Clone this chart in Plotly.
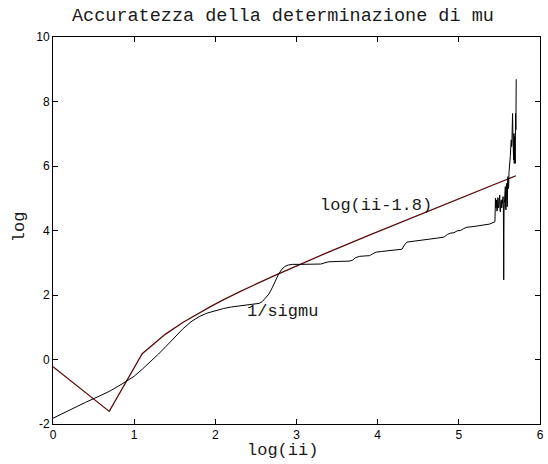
import plotly.graph_objects as go

# Reference curve log(ii-1.8) against log(ii): vertices (real part at ii=1)
ref_x = [0.000, 0.693, 1.099, 1.386, 1.609, 1.792, 1.946, 2.079, 2.303, 2.708,
         2.996, 3.401, 3.912, 4.382, 5.011, 5.298, 5.521, 5.704]
ref_y = [-0.223, -1.609, 0.182, 0.788, 1.163, 1.435, 1.649, 1.825, 2.104, 2.580,
         2.901, 3.339, 3.875, 4.359, 4.999, 5.289, 5.514, 5.698]

# Measured 1/sigmu (log) against log(ii)
sig_x = [0.00, 0.20, 0.40, 0.60, 0.70, 0.85, 1.00, 1.10, 1.20, 1.30, 1.39, 1.50,
         1.60, 1.70, 1.80, 1.90, 2.00, 2.10, 2.20, 2.35, 2.48, 2.54, 2.58, 2.62,
         2.66, 2.70, 2.74, 2.78, 2.82, 2.86, 2.90, 2.95, 3.05, 3.20, 3.30, 3.35,
         3.40, 3.50, 3.65, 3.69, 3.73, 3.78, 3.90, 3.94, 3.98, 4.05, 4.15, 4.25,
         4.30, 4.33, 4.36, 4.45, 4.60, 4.70, 4.78, 4.82, 4.86, 4.90, 4.94, 4.98,
         5.02, 5.06, 5.10, 5.20, 5.30, 5.38, 5.445,
         5.451, 5.457, 5.463, 5.469, 5.475, 5.480, 5.484, 5.488, 5.492, 5.498,
         5.504, 5.508, 5.512, 5.518, 5.524, 5.528, 5.532, 5.538, 5.545, 5.549,
         5.553, 5.557, 5.561, 5.567, 5.573, 5.577, 5.581, 5.585, 5.589, 5.593,
         5.597, 5.601, 5.605, 5.610, 5.614, 5.618, 5.622, 5.628, 5.634, 5.640,
         5.646, 5.650, 5.654, 5.658, 5.662, 5.666, 5.670, 5.675, 5.679, 5.683,
         5.687, 5.691, 5.695, 5.699, 5.703, 5.707]
sig_y = [-1.82, -1.57, -1.33, -1.10, -0.98, -0.76, -0.52, -0.30, -0.08, 0.17, 0.40, 0.68,
         0.95, 1.17, 1.33, 1.44, 1.52, 1.58, 1.63, 1.68, 1.71, 1.74, 1.80, 1.90,
         2.03, 2.22, 2.45, 2.65, 2.80, 2.89, 2.93, 2.95, 2.95, 2.95, 2.96, 3.00,
         3.03, 3.04, 3.05, 3.08, 3.16, 3.20, 3.22, 3.28, 3.33, 3.35, 3.37, 3.40,
         3.42, 3.55, 3.64, 3.67, 3.71, 3.74, 3.78, 3.80, 3.88, 3.92, 3.93, 3.99,
         4.00, 4.06, 4.10, 4.13, 4.17, 4.20, 4.27,
         5.00, 4.70, 4.95, 4.60, 4.64, 5.02, 5.00, 4.70, 4.74, 4.95,
         5.10, 4.62, 4.58, 4.90, 4.95, 4.70, 4.84, 5.00, 5.05, 4.80,
         2.47, 4.60, 4.84, 5.30, 5.36, 4.70, 4.64, 5.20, 5.46, 4.90,
         4.74, 5.50, 5.67, 5.30, 5.36, 5.80, 5.88, 6.10, 6.29, 6.60,
         6.81, 6.60, 6.70, 7.20, 7.63, 7.00, 6.81, 6.19, 7.01, 6.08,
         6.91, 6.40, 6.08, 7.63, 7.12, 8.69]

x_ticks = [0, 1, 2, 3, 4, 5, 6]
y_ticks = [-2, 0, 2, 4, 6, 8, 10]

MONO = "Liberation Mono, Courier New, monospace"
SANS = "Liberation Sans, Arial, Helvetica, sans-serif"
TEXT_COLOR = "#1a1a1a"

W, H = 548, 464
L, R, T, B = 53, 4, 37, 40
PW, PH = W - L - R, H - T - B


def px(xp):
    return (xp - L) / PW


def py(yp):
    return (H - B - yp) / PH


fig = go.Figure()
fig.add_trace(go.Scatter(x=ref_x, y=ref_y, mode="lines",
                         line=dict(color="#5c0a0a", width=1.3), hoverinfo="skip"))
fig.add_trace(go.Scatter(x=sig_x, y=sig_y, mode="lines",
                         line=dict(color="#000000", width=1.0), hoverinfo="skip"))

axis_common = dict(showgrid=False, zeroline=False, showline=True, linecolor="black",
                   linewidth=1, mirror="allticks", ticks="inside", ticklen=5,
                   tickwidth=1, tickcolor="black",
                   tickfont=dict(family=SANS, size=12, color="black"))

fig.update_xaxes(range=[0, 6], tickvals=x_ticks, ticktext=[str(v) for v in x_ticks],
                 **axis_common)
fig.update_yaxes(range=[-2, 10], tickvals=y_ticks, ticktext=[str(v) for v in y_ticks],
                 **axis_common)

annotations = [
    dict(text="Accuratezza della determinazione di mu", xref="paper", yref="paper",
         x=px(285), y=py(17), xanchor="center", yanchor="middle", showarrow=False,
         font=dict(family=MONO, size=18.5, color=TEXT_COLOR)),
    dict(text="log(ii)", xref="paper", yref="paper",
         x=px(284), y=py(450), xanchor="center", yanchor="middle", showarrow=False,
         font=dict(family=MONO, size=17, color=TEXT_COLOR)),
    dict(text="log", xref="paper", yref="paper", textangle=-90,
         x=px(20), y=py(227), xanchor="center", yanchor="middle", showarrow=False,
         font=dict(family=MONO, size=17, color=TEXT_COLOR)),
    dict(text="log(ii-1.8)", xref="x", yref="y", x=3.27, y=4.79,
         xanchor="left", yanchor="middle", showarrow=False,
         font=dict(family=MONO, size=17, color=TEXT_COLOR)),
    dict(text="1/sigmu", xref="x", yref="y", x=2.36, y=1.50,
         xanchor="left", yanchor="middle", showarrow=False,
         font=dict(family=MONO, size=17, color=TEXT_COLOR)),
]

fig.update_layout(width=W, height=H, margin=dict(l=L, r=R, t=T, b=B),
                  paper_bgcolor="white", plot_bgcolor="white", showlegend=False,
                  annotations=annotations)

fig.write_html("out.html")
